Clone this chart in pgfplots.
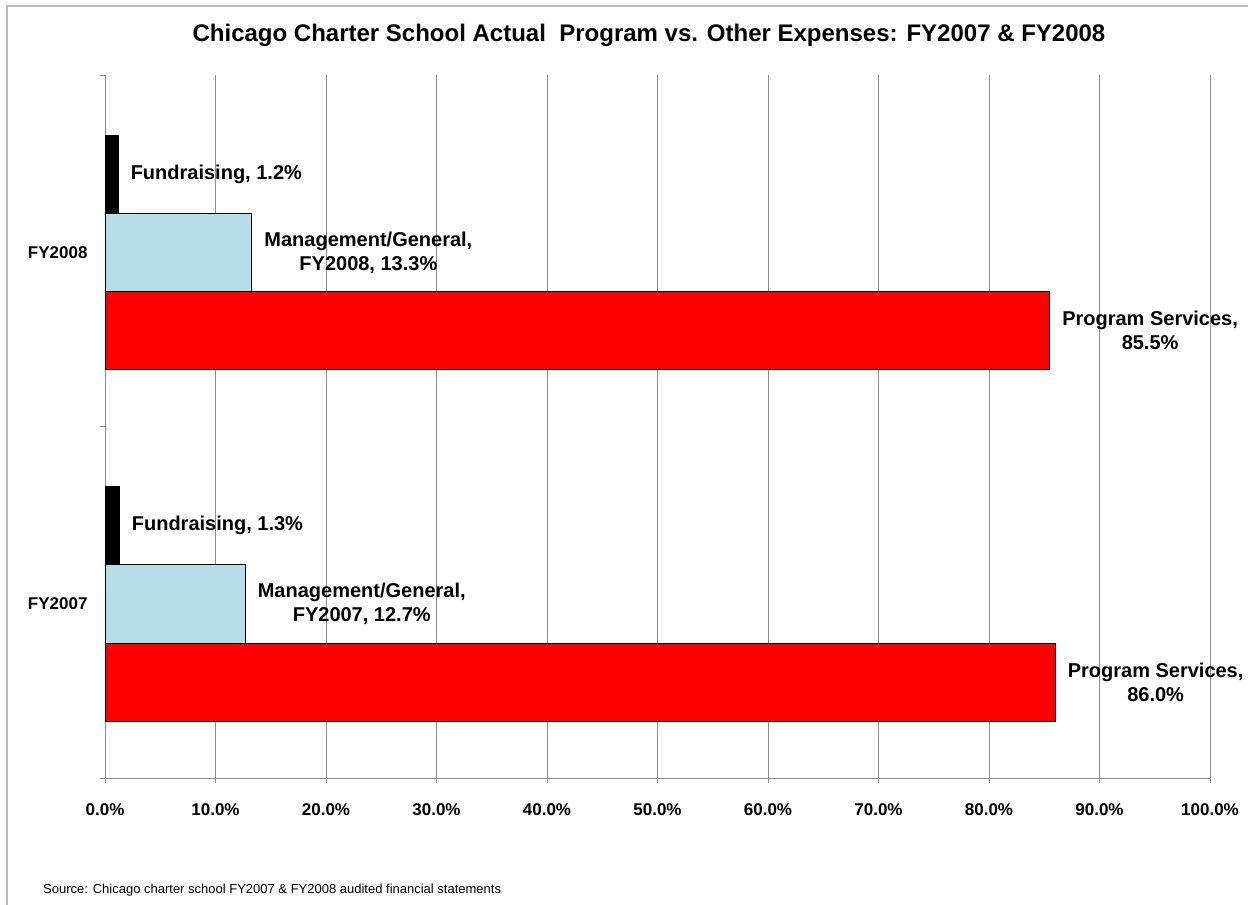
\documentclass[border=0pt]{standalone}
\usepackage{pgfplots}
\pgfplotsset{compat=1.18}
\usepackage{fontspec}
\setmainfont{Liberation Sans}
\definecolor{lblue}{HTML}{B7DDE8}
\definecolor{gridgray}{HTML}{8C8C8C}
\begin{document}
\begin{tikzpicture}[x=1pt,y=1pt]
\path[use as bounding box] (0,0) rectangle (1248,-905);
\fill[white] (0,0) rectangle (1248,-905);
\draw[gray!55, line width=2pt] (7,-905) -- (7,-6) -- (1248,-6);
\node[font=\bfseries\fontsize{24}{28}\selectfont, anchor=base] at (649,-41.7)
  {Chicago Charter School Actual\ \ Program vs. Other Expenses: FY2007 \& FY2008};
\node[anchor=base west, inner sep=0pt, font=\fontsize{13}{15}\selectfont] at (43,-893)
  {Source: Chicago charter school FY2007 \& FY2008 audited financial statements};
\begin{axis}[
  at={(105pt,-778pt)}, anchor=south west,
  scale only axis, width=1105pt, height=703pt,
  xmin=0, xmax=100, ymin=0, ymax=2,
  axis lines*=left,
  axis line style={draw=gridgray, line width=1pt},
  xtick={0,10,...,100},
  xticklabels={0.0\%,10.0\%,20.0\%,30.0\%,40.0\%,50.0\%,60.0\%,70.0\%,80.0\%,90.0\%,100.0\%},
  ytick={0,1,2}, yticklabels={},
  extra y ticks={0.495,1.495},
  extra y tick labels={FY2007,FY2008},
  extra y tick style={major tick length=0pt, ymajorgrids=false, yticklabel style={xshift=-14pt}},
  tick align=outside, major tick length=5pt,
  tick style={draw=gridgray, line width=1pt},
  xmajorgrids, grid style={draw=gridgray, line width=1pt},
  ticklabel style={font=\bfseries\fontsize{17}{20}\selectfont},
  xticklabel style={yshift=-17pt},
  xbar, bar width=0.2225,
  point meta=explicit symbolic,
  nodes near coords,
  nodes near coords style={anchor=west, inner sep=0pt, xshift=12pt, align=center,
     font=\bfseries\fontsize{20}{24}\selectfont, text=black},
  clip=false,
]
\addplot[fill=red, draw=black, line width=1pt, bar shift=-0.2225]
  coordinates {(86.0,0.495) [{Program Services,\\86.0\%}] (85.5,1.495) [{Program Services,\\85.5\%}]};
\addplot[fill=lblue, draw=black, line width=1pt, bar shift=0]
  coordinates {(12.7,0.495) [{Management/General,\\FY2007, 12.7\%}] (13.3,1.495) [{Management/General,\\FY2008, 13.3\%}]};
\addplot[fill=black, draw=black, line width=1pt, bar shift=0.2225]
  coordinates {(1.3,0.495) [{Fundraising, 1.3\%}] (1.2,1.495) [{Fundraising, 1.2\%}]};
\end{axis}
\end{tikzpicture}
\end{document}
